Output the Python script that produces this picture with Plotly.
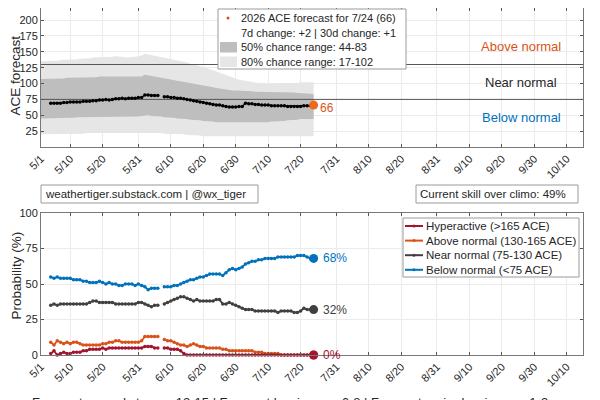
import pandas as pd
import plotly.graph_objects as go

# ---- data ----
band_dates = pd.date_range("2026-05-01", "2026-07-24", freq="D")
fc_dates = pd.date_range("2026-05-04", "2026-07-24", freq="D")

ace_forecast = [
    69, 69, 69, 69, 70, 70, 71,
    71, 71, 71, 72, 72, 72, 73,
    73, 74, 74, 75, 74, 75, 76,
    76, 77, 76, 77, 77, 77, 78,
    78, 82, 82, 81, 81, 81, None,
    79, 79, 78, 78, 77, 77, 76,
    75, 74, 73, 72, 71, 70, 69,
    68, 67, 66, 66, 65, 64, 63,
    63, 63, 64, 64, 69, 68, 68,
    67, 67, 66, 66, 66, 65, 65,
    65, 65, 65, 64, 64, 64, 64,
    64, 65, 65, 65, 66,
]

p80_hi = [
    135, 135, 136, 136, 135, 136, 137, 137, 137, 138,
    138, 138, 139, 139, 140, 140, 141, 141, 141, 142,
    142, 141, 142, 143, 143, 142, 141, 141, 141, 142, 143,
    144, 147, 146, 145, 144, 143, 141, 140, 139, 138,
    137, 136, 135, 134, 133, 131, 130, 129, 128, 127,
    125, 123, 121, 119, 117, 115, 113, 111, 109, 107,
    106, 105, 104, 103, 102, 101, 101, 100, 100, 100,
    100, 100, 100, 100, 101, 101, 101, 101, 101, 102,
    102, 102, 102, 102,
]
p50_hi = [
    107, 107, 107, 108, 108, 108, 108, 108, 109, 109,
    109, 109, 109, 110, 110, 110, 110, 110, 111, 111,
    111, 110, 111, 111, 111, 110, 110, 110, 110, 110, 110,
    111, 114, 113, 112, 111, 110, 109, 108, 107, 106,
    105, 104, 103, 102, 101, 100, 99, 99, 98, 97,
    96, 95, 94, 93, 92, 91, 90, 89, 89, 89,
    89, 88, 88, 88, 88, 87, 87, 87, 87, 87,
    87, 87, 86, 86, 86, 86, 86, 86, 85, 85,
    85, 84, 84, 83,
]
p50_lo = [
    45, 45, 45, 45, 46, 46, 46, 46, 46, 46,
    46, 47, 47, 47, 47, 47, 48, 48, 48, 48,
    48, 47, 48, 48, 48, 48, 47, 47, 47, 48, 48,
    49, 50, 50, 49, 49, 48, 48, 47, 47, 46,
    46, 45, 45, 44, 44, 43, 43, 42, 42, 41,
    41, 40, 40, 39, 39, 39, 38, 38, 38, 38,
    38, 38, 38, 38, 38, 38, 38, 39, 39, 39,
    40, 40, 40, 41, 41, 42, 42, 43, 43, 44,
    44, 44, 44, 44,
]
p80_lo = [
    20, 20, 20, 20, 21, 21, 21, 21, 21, 21,
    21, 21, 21, 21, 22, 22, 22, 22, 22, 22,
    22, 22, 22, 22, 22, 22, 22, 22, 22, 22, 22,
    23, 23, 23, 23, 22, 22, 22, 21, 21, 21,
    21, 20, 20, 20, 19, 19, 18, 18, 18, 17,
    17, 17, 17, 17, 17, 17, 17, 17, 17, 17,
    17, 17, 17, 17, 17, 17, 17, 17, 17, 17,
    17, 17, 17, 17, 17, 17, 17, 17, 17, 17,
    17, 17, 17, 17,
]

prob_below = [
    55, 54, 55, 54, 54, 54, 54,
    53, 53, 53, 52, 52, 51, 51,
    51, 52, 51, 50, 51, 50, 50,
    49, 49, 50, 50, 50, 49, 50,
    49, 48, 46, 47, 47, 47, None,
    48, 48, 48, 49, 49, 50, 51,
    52, 53, 53, 54, 55, 55, 56,
    57, 57, 57, 57, 56, 58, 60,
    61, 60, 61, 62, 64, 65, 66,
    66, 67, 67, 68, 68, 68, 68,
    69, 69, 69, 69, 69, 69, 70,
    70, 70, 69, 68, 68,
]
prob_near = [
    35, 36, 35, 36, 36, 36, 36,
    36, 36, 36, 36, 36, 37, 38,
    38, 37, 37, 37, 37, 37, 36,
    36, 36, 36, 36, 36, 36, 37,
    37, 36, 35, 34, 35, 35, None,
    36, 37, 38, 39, 40, 41, 41,
    40, 39, 38, 39, 38, 38, 38,
    38, 38, 39, 39, 36, 36, 37,
    36, 35, 34, 33, 32, 32, 32,
    31, 31, 31, 31, 31, 31, 31,
    30, 31, 31, 31, 31, 30, 30,
    31, 33, 32, 32, 32,
]
prob_above = [
    9, 7, 10, 9, 8, 9, 8,
    9, 9, 8, 7, 7, 7, 7,
    7, 7, 8, 8, 9, 9, 10,
    10, 9, 9, 9, 9, 9, 9,
    10, 13, 13, 13, 13, 13, None,
    11, 10, 10, 9, 8, 7, 7,
    6, 7, 8, 7, 6, 6, 5,
    5, 5, 5, 5, 4, 4, 3,
    3, 3, 3, 3, 3, 3, 3,
    2, 2, 2, 1, 1, 1, 1,
    1, 0, 0, 0, 0, 0, 0,
    0, 0, 0, 0, 0,
]
prob_hyper = [
    1, 3, 0, 1, 2, 1, 1,
    2, 2, 2, 3, 3, 4, 4,
    4, 4, 5, 4, 5, 5, 5,
    5, 5, 5, 5, 5, 5, 5,
    5, 6, 6, 6, 5, 5, None,
    5, 5, 4, 4, 4, 3, 1,
    0, 0, 0, 0, 0, 0, 0,
    0, 0, 0, 0, 0, 0, 0,
    0, 0, 0, 0, 0, 0, 0,
    0, 0, 0, 0, 0, 0, 0,
    0, 0, 0, 0, 0, 0, 0,
    0, 0, 0, 0, 0,
]

near_lo, near_hi = 75, 130
x_start, x_end = "2026-05-01", "2026-10-15"
tick_dates = ["2026-05-01", "2026-05-10", "2026-05-20", "2026-05-31", "2026-06-10",
              "2026-06-20", "2026-06-30", "2026-07-10", "2026-07-20", "2026-07-31",
              "2026-08-10", "2026-08-20", "2026-08-31", "2026-09-10", "2026-09-20",
              "2026-09-30", "2026-10-10"]
tick_labels = ["5/1", "5/10", "5/20", "5/31", "6/10", "6/20", "6/30", "7/10", "7/20",
               "7/31", "8/10", "8/20", "8/31", "9/10", "9/20", "9/30", "10/10"]

BLUE = "#0072BD"
ORANGE = "#D95319"
DOT_ORANGE = "#EE6A1A"
RED = "#A2142F"
GRAY = "#404040"
TXT = "#262626"
FONT = "Liberation Sans"

# the page puts the figure 8px in from the top-left corner, so the figure is
# made 8px smaller and window pixel positions are shifted by that offset
OFF = 8
W, H = 600 - OFF, 400 - OFF


def px(x):
    return (x - OFF) / W


def py(y):
    return 1 - (y - OFF) / H


fig = go.Figure()

# ---- top panel: ACE forecast ----
fig.add_trace(go.Scatter(x=band_dates, y=p80_lo, mode="lines", line=dict(width=0),
                         hoverinfo="skip", showlegend=False))
fig.add_trace(go.Scatter(x=band_dates, y=p80_hi, mode="lines", line=dict(width=0),
                         fill="tonexty", fillcolor="#E6E6E6", showlegend=False))
fig.add_trace(go.Scatter(x=band_dates, y=p50_lo, mode="lines", line=dict(width=0),
                         hoverinfo="skip", showlegend=False))
fig.add_trace(go.Scatter(x=band_dates, y=p50_hi, mode="lines", line=dict(width=0),
                         fill="tonexty", fillcolor="#BEBEBE", showlegend=False))
for thr in (near_lo, near_hi):
    fig.add_trace(go.Scatter(x=[x_start, x_end], y=[thr, thr], mode="lines",
                             line=dict(color="#555555", width=1), showlegend=False))
fig.add_trace(go.Scatter(x=fc_dates, y=ace_forecast, mode="lines+markers",
                         line=dict(color="black", width=1.2),
                         marker=dict(color="black", size=3.5), showlegend=False))
fig.add_trace(go.Scatter(x=[fc_dates[-1]], y=[ace_forecast[-1]], mode="markers",
                         marker=dict(color=DOT_ORANGE, size=9), cliponaxis=False,
                         showlegend=False))

# ---- bottom panel: category probabilities ----
series = [
    ("Below normal (<75 ACE)", prob_below, BLUE),
    ("Near normal (75-130 ACE)", prob_near, GRAY),
    ("Above normal (130-165 ACE)", prob_above, ORANGE),
    ("Hyperactive (>165 ACE)", prob_hyper, RED),
]
for name, vals, col in series:
    fig.add_trace(go.Scatter(x=fc_dates, y=vals, mode="lines+markers", name=name,
                             line=dict(color=col, width=1.8),
                             marker=dict(color=col, size=3.5),
                             xaxis="x2", yaxis="y2", cliponaxis=False, showlegend=False))
for name, vals, col in series:
    fig.add_trace(go.Scatter(x=[fc_dates[-1]], y=[vals[-1]], mode="markers",
                             marker=dict(color=col, size=9), xaxis="x2", yaxis="y2",
                             cliponaxis=False, showlegend=False))

axis_common = dict(
    type="date", range=[x_start, x_end], tickvals=tick_dates, ticktext=tick_labels,
    tickangle=-45, tickfont=dict(size=11, color=TXT), ticks="inside", ticklen=3,
    tickcolor="#555555", showline=True, linecolor="#777777", linewidth=1,
    mirror="allticks", showgrid=True, gridcolor="#EBEBEB", zeroline=False,
    automargin=False,
)
yaxis_common = dict(
    tickfont=dict(size=11, color=TXT), ticks="inside", ticklen=3, tickcolor="#555555",
    showline=True, linecolor="#777777", linewidth=1, mirror="allticks",
    showgrid=True, gridcolor="#EBEBEB", zeroline=False, automargin=False,
)

fig.update_layout(
    width=W, height=H,
    margin=dict(l=0, r=0, t=0, b=0, autoexpand=False),
    paper_bgcolor="white", plot_bgcolor="white",
    font=dict(family=FONT, color=TXT),
    xaxis=dict(axis_common, domain=[px(41), px(583)], anchor="y"),
    yaxis=dict(yaxis_common, domain=[py(147), 1], range=[0, 219],
               tickvals=[25, 50, 75, 100, 125, 150, 175, 200], anchor="x"),
    xaxis2=dict(axis_common, domain=[px(41), px(583)], anchor="y2"),
    yaxis2=dict(yaxis_common, domain=[py(355), py(213)], range=[0, 100],
                tickvals=[0, 25, 50, 75, 100], anchor="x2"),
    showlegend=False,
)

shapes = []
ann = []

# axis titles
ann.append(dict(text="ACE forecast", x=px(15.5), y=py(76), xref="paper", yref="paper",
                xanchor="center", yanchor="middle", textangle=-90, showarrow=False,
                font=dict(size=13.5, color=TXT)))
ann.append(dict(text="Probability (%)", x=px(15.5), y=py(276), xref="paper", yref="paper",
                xanchor="center", yanchor="middle", textangle=-90, showarrow=False,
                font=dict(size=13.5, color=TXT)))

# cut-off title and footer
ann.append(dict(text="<b>WeatherTiger 2026 Atlantic Hurricane Season ACE Forecast History</b>",
                x=px(283), y=py(3), xref="paper", yref="paper", xanchor="center",
                yanchor="bottom", showarrow=False, font=dict(size=15, color=TXT)))
ann.append(dict(text="Forecast named storms: 12-15 | Forecast hurricanes: 6-8 | Forecast major hurricanes: 1-3",
                x=px(30), y=py(392.5), xref="paper", yref="paper", xanchor="left",
                yanchor="top", showarrow=False, font=dict(size=13, color=TXT)))

# category labels in the top panel
ann.append(dict(text="Above normal", x="2026-09-26", y=158, xref="x", yref="y",
                showarrow=False, font=dict(size=13, color=ORANGE)))
ann.append(dict(text="Near normal", x="2026-09-26", y=102, xref="x", yref="y",
                showarrow=False, font=dict(size=13, color=TXT)))
ann.append(dict(text="Below normal", x="2026-09-26", y=47, xref="x", yref="y",
                showarrow=False, font=dict(size=13, color=BLUE)))

# end value labels
ann.append(dict(text=str(ace_forecast[-1]), x=fc_dates[-1], y=ace_forecast[-1] - 4,
                xref="x", yref="y", xanchor="left", xshift=4, showarrow=False,
                font=dict(size=12, color=ORANGE)))
for name, vals, col in series:
    if name.startswith("Above"):
        continue
    ann.append(dict(text=f"{vals[-1]}%", x=fc_dates[-1], y=vals[-1], xref="x2", yref="y2",
                    xanchor="left", xshift=7, showarrow=False,
                    font=dict(size=12, color=col)))

# top legend box
shapes.append(dict(type="rect", xref="paper", yref="paper", x0=px(218), x1=px(406),
                   y0=py(69), y1=py(9), line=dict(color="#9A9A9A", width=1),
                   fillcolor="white", layer="above"))
shapes.append(dict(type="circle", xref="paper", yref="paper", x0=px(226.5), x1=px(229.5),
                   y0=py(19.5), y1=py(16.5), line=dict(width=0), fillcolor=ORANGE,
                   layer="above"))
shapes.append(dict(type="rect", xref="paper", yref="paper", x0=px(220), x1=px(237),
                   y0=py(52.5), y1=py(42), line=dict(width=0), fillcolor="#BEBEBE",
                   layer="above"))
shapes.append(dict(type="rect", xref="paper", yref="paper", x0=px(220), x1=px(237),
                   y0=py(67), y1=py(56.5), line=dict(width=0), fillcolor="#E6E6E6",
                   layer="above"))
top_leg = [
    f"2026 ACE forecast for 7/24 ({ace_forecast[-1]})",
    "7d change: +2 | 30d change: +1",
    f"50% chance range: {p50_lo[-1]}-{p50_hi[-1]}",
    f"80% chance range: {p80_lo[-1]}-{p80_hi[-1]}",
]
for i, t in enumerate(top_leg):
    ann.append(dict(text=t, x=px(239), y=py(18 + 14.6 * i), xref="paper", yref="paper",
                    xanchor="left", yanchor="middle", showarrow=False,
                    font=dict(size=11, color=TXT)))

# bottom legend box
shapes.append(dict(type="rect", xref="paper", yref="paper", x0=px(403), x1=px(579),
                   y0=py(277), y1=py(218), line=dict(color="#9A9A9A", width=1),
                   fillcolor="white", layer="above"))
for i, (name, vals, col) in enumerate(reversed(series)):
    yy = 226 + 14.6 * i
    shapes.append(dict(type="line", xref="paper", yref="paper", x0=px(405), x1=px(423),
                       y0=py(yy), y1=py(yy), line=dict(color=col, width=2), layer="above"))
    shapes.append(dict(type="circle", xref="paper", yref="paper", x0=px(412.5), x1=px(415.5),
                       y0=py(yy + 1.5), y1=py(yy - 1.5), line=dict(width=0),
                       fillcolor=col, layer="above"))
    ann.append(dict(text=name, x=px(424), y=py(yy), xref="paper", yref="paper",
                    xanchor="left", yanchor="middle", showarrow=False,
                    font=dict(size=11.5, color=TXT)))

# info boxes between the panels
shapes.append(dict(type="rect", xref="paper", yref="paper", x0=px(41), x1=px(258),
                   y0=py(203), y1=py(185), line=dict(color="#9A9A9A", width=1),
                   fillcolor="white"))
ann.append(dict(text="weathertiger.substack.com | @wx_tiger", x=px(43), y=py(194),
                xref="paper", yref="paper", xanchor="left", yanchor="middle",
                showarrow=False, font=dict(size=11.5, color=TXT)))
shapes.append(dict(type="rect", xref="paper", yref="paper", x0=px(416), x1=px(578),
                   y0=py(203), y1=py(185), line=dict(color="#9A9A9A", width=1),
                   fillcolor="white"))
ann.append(dict(text="Current skill over climo: 49%", x=px(418), y=py(194),
                xref="paper", yref="paper", xanchor="left", yanchor="middle",
                showarrow=False, font=dict(size=11.5, color=TXT)))

fig.update_layout(shapes=shapes, annotations=ann)

fig.write_html("out.html")
